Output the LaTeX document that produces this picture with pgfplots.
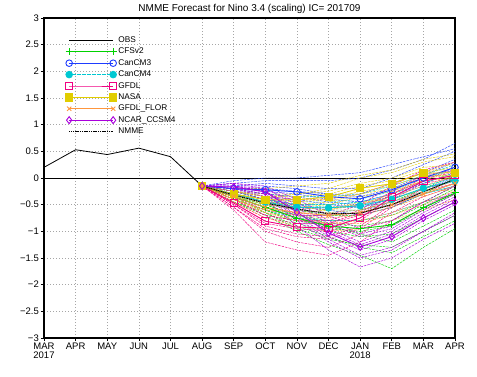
\documentclass[border=0pt]{standalone}
\usepackage{fontspec}
\setmainfont{Liberation Sans}
\usepackage{pgfplots}
\usepackage{pgfplotstable}
\pgfplotsset{compat=1.18}
\definecolor{cfs}{RGB}{0,210,0}
\definecolor{cm3}{RGB}{30,60,255}
\definecolor{cm4}{RGB}{0,200,210}
\definecolor{gfdl}{RGB}{240,0,130}
\definecolor{nasa}{RGB}{225,205,0}
\definecolor{flor}{RGB}{255,150,60}
\definecolor{ncar}{RGB}{170,0,220}
\pgfplotstableread{
x mean a b c d e f g h i j
5 -0.15 -0.15 -0.15 -0.15 -0.15 -0.15 -0.15 -0.15 -0.15 -0.15 -0.15
6 -0.35 -0.30 -0.40 -0.35 -0.45 -0.30 -0.35 -0.40 -0.25 -0.35 -0.45
7 -0.55 -0.45 -0.60 -0.65 -0.70 -0.50 -0.55 -0.60 -0.40 -0.50 -0.65
8 -0.75 -0.60 -0.85 -0.90 -1.00 -0.70 -0.75 -0.80 -0.55 -0.70 -0.95
9 -0.90 -0.70 -1.00 -1.10 -1.25 -0.80 -0.95 -0.90 -0.60 -0.85 -1.15
10 -0.95 -0.70 -1.10 -1.30 -1.45 -0.80 -1.00 -1.05 -0.60 -0.90 -1.25
11 -0.88 -0.55 -1.05 -1.40 -1.70 -0.70 -0.90 -1.20 -0.45 -0.80 -1.30
12 -0.56 -0.30 -0.75 -1.10 -1.30 -0.45 -0.60 -0.90 -0.20 -0.50 -1.00
13 -0.28 0.00 -0.45 -0.80 -0.95 -0.15 -0.30 -0.60 0.05 -0.20 -0.70
}\cfsdata
\pgfplotstableread{
x mean a b c d e f g h i
5 -0.15 -0.15 -0.15 -0.15 -0.15 -0.15 -0.15 -0.15 -0.15 -0.15
6 -0.20 -0.10 -0.15 -0.25 -0.20 -0.30 -0.15 -0.05 -0.25 -0.20
7 -0.22 -0.05 -0.10 -0.30 -0.25 -0.40 -0.15 0.00 -0.35 -0.20
8 -0.26 -0.05 -0.15 -0.35 -0.30 -0.50 -0.20 0.00 -0.40 -0.25
9 -0.35 -0.05 -0.20 -0.45 -0.40 -0.60 -0.30 0.05 -0.50 -0.30
10 -0.39 0.00 -0.20 -0.50 -0.45 -0.70 -0.30 0.10 -0.55 -0.35
11 -0.22 0.15 0.00 -0.35 -0.30 -0.55 -0.10 0.25 -0.40 -0.20
12 0.00 0.35 0.25 -0.10 -0.05 -0.30 0.10 0.40 -0.20 0.05
13 0.20 0.65 0.50 0.10 0.20 -0.10 0.35 0.55 0.00 0.30
}\cmthreedata
\pgfplotstableread{
x mean a b c d e f g h i
5 -0.15 -0.15 -0.15 -0.15 -0.15 -0.15 -0.15 -0.15 -0.15 -0.15
6 -0.30 -0.20 -0.25 -0.35 -0.40 -0.30 -0.30 -0.25 -0.35 -0.30
7 -0.45 -0.30 -0.40 -0.50 -0.60 -0.45 -0.40 -0.35 -0.55 -0.45
8 -0.55 -0.35 -0.50 -0.60 -0.75 -0.55 -0.50 -0.45 -0.70 -0.50
9 -0.56 -0.35 -0.50 -0.65 -0.80 -0.55 -0.50 -0.45 -0.70 -0.55
10 -0.52 -0.30 -0.45 -0.60 -0.80 -0.50 -0.45 -0.40 -0.65 -0.55
11 -0.40 -0.15 -0.35 -0.50 -0.65 -0.40 -0.30 -0.25 -0.50 -0.45
12 -0.19 0.05 -0.15 -0.30 -0.45 -0.20 -0.10 0.00 -0.30 -0.25
13 -0.05 0.25 0.00 -0.15 -0.30 -0.05 0.10 0.15 -0.15 -0.05
}\cmfourdata
\pgfplotstableread{
x mean a b c d e f g h i
5 -0.15 -0.15 -0.15 -0.15 -0.15 -0.15 -0.15 -0.15 -0.15 -0.15
6 -0.47 -0.35 -0.45 -0.50 -0.55 -0.60 -0.40 -0.50 -0.40 -0.55
7 -0.81 -0.60 -0.75 -0.85 -0.95 -1.20 -0.70 -0.90 -0.70 -1.00
8 -0.92 -0.70 -0.85 -0.95 -1.10 -1.35 -0.80 -1.05 -0.80 -1.20
9 -0.94 -0.70 -0.85 -1.00 -1.15 -1.45 -0.80 -1.10 -0.85 -1.30
10 -0.75 -0.50 -0.70 -0.80 -0.95 -1.20 -0.60 -0.90 -0.65 -1.05
11 -0.36 -0.15 -0.30 -0.40 -0.55 -0.80 -0.25 -0.50 -0.30 -0.65
12 -0.06 0.15 -0.05 -0.10 -0.25 -0.45 0.05 -0.20 0.00 -0.35
13 0.05 0.30 0.05 0.00 -0.10 -0.30 0.15 -0.05 0.10 -0.15
}\gfdldata
\pgfplotstableread{
x mean a b c d e f g h i
5 -0.15 -0.15 -0.15 -0.15 -0.15 -0.15 -0.15 -0.15 -0.15 -0.15
6 -0.30 -0.20 -0.25 -0.30 -0.35 -0.40 -0.25 -0.25 -0.35 -0.30
7 -0.41 -0.20 -0.35 -0.40 -0.50 -0.60 -0.35 -0.30 -0.45 -0.40
8 -0.41 -0.15 -0.30 -0.45 -0.55 -0.65 -0.35 -0.30 -0.50 -0.40
9 -0.36 -0.10 -0.25 -0.40 -0.50 -0.60 -0.30 -0.20 -0.45 -0.35
10 -0.19 0.05 -0.10 -0.25 -0.35 -0.45 -0.15 0.00 -0.30 -0.20
11 -0.11 0.15 0.00 -0.15 -0.25 -0.40 -0.05 0.10 -0.20 -0.10
12 0.09 0.35 0.20 0.05 -0.05 -0.20 0.15 0.30 0.00 0.10
13 0.10 0.45 0.25 0.05 0.00 -0.25 0.15 0.40 0.05 0.20
}\nasadata
\pgfplotstableread{
x mean a b c d e f g h i
5 -0.15 -0.15 -0.15 -0.15 -0.15 -0.15 -0.15 -0.15 -0.15 -0.15
6 -0.35 -0.25 -0.30 -0.40 -0.45 -0.35 -0.30 -0.30 -0.40 -0.35
7 -0.55 -0.35 -0.50 -0.60 -0.75 -0.65 -0.45 -0.45 -0.65 -0.55
8 -0.65 -0.40 -0.60 -0.70 -0.90 -0.75 -0.55 -0.55 -0.80 -0.65
9 -0.70 -0.40 -0.65 -0.75 -1.00 -0.85 -0.60 -0.55 -0.85 -0.70
10 -0.65 -0.30 -0.60 -0.70 -0.95 -0.85 -0.50 -0.50 -0.80 -0.65
11 -0.50 -0.10 -0.45 -0.55 -0.80 -0.70 -0.35 -0.30 -0.65 -0.50
12 -0.30 0.10 -0.25 -0.35 -0.60 -0.50 -0.15 -0.05 -0.45 -0.30
13 -0.10 0.30 -0.05 -0.15 -0.40 -0.30 0.05 0.15 -0.25 -0.10
}\flordata
\pgfplotstableread{
x mean a b c d e f g h i
5 -0.15 -0.15 -0.15 -0.15 -0.15 -0.15 -0.15 -0.15 -0.15 -0.15
6 -0.17 -0.10 -0.15 -0.20 -0.25 -0.15 -0.20 -0.20 -0.15 -0.10
7 -0.26 -0.15 -0.25 -0.30 -0.40 -0.20 -0.30 -0.35 -0.25 -0.20
8 -0.64 -0.40 -0.55 -0.70 -0.90 -0.50 -0.75 -0.80 -0.60 -0.45
9 -1.03 -0.70 -0.95 -1.10 -1.35 -0.85 -1.15 -1.20 -1.00 -0.80
10 -1.29 -0.95 -1.20 -1.35 -1.67 -1.10 -1.45 -1.50 -1.25 -1.05
11 -1.10 -0.80 -1.00 -1.15 -1.50 -0.95 -1.30 -1.35 -1.05 -0.90
12 -0.75 -0.45 -0.65 -0.80 -1.15 -0.60 -1.00 -1.00 -0.70 -0.55
13 -0.45 -0.15 -0.35 -0.50 -0.85 -0.30 -0.70 -0.65 -0.40 -0.25
}\ncardata
\begin{document}
\begin{tikzpicture}
\useasboundingbox (0,0) rectangle (477pt,376pt);
\begin{axis}[
  at={(44pt,38pt)}, anchor=south west,
  width=411pt, height=320pt, scale only axis,
  xmin=0, xmax=13, ymin=-3, ymax=3,
  xtick={0,...,13},
  xticklabels={MAR\\2017,APR,MAY,JUN,JUL,AUG,SEP,OCT,NOV,DEC,JAN\\2018,FEB,MAR,APR},
  xticklabel style={align=center, font=\fontsize{9.5}{9.5}\selectfont, inner sep=1.5pt},
  ytick={-3,-2.5,...,3},
  yticklabels={−3,−2.5,−2,−1.5,−1,−0.5,0,0.5,1,1.5,2,2.5,3},
  yticklabel style={font=\fontsize{9.5}{10}\selectfont, inner sep=2pt},
  tick pos=left, tick align=outside, major tick length=3pt,
  tick style={black, line width=0.6pt},
  axis line style={line width=1.1pt},
  grid=major,
  major grid style={gray!70, line width=0.6pt, dash pattern=on 0.8pt off 2.2pt},
  title={NMME Forecast for Nino 3.4 (scaling) IC= 201709},
  title style={font=\fontsize{10}{10}\selectfont, yshift=-5pt},
  legend style={draw=none, fill=none, at={(0.052,0.947)}, anchor=north west,
    font=\fontsize{8.3}{8.3}\selectfont, row sep=0.9pt, inner sep=0pt,
    nodes={inner sep=1.6pt}},
  legend cell align=left,
  legend image code/.code={\draw[mark repeat=2,mark phase=1,#1] plot coordinates {(0pt,0pt) (22pt,0pt) (44pt,0pt)};},
  member/.style={forget plot, line width=0.45pt, dash pattern=on 2.5pt off 1pt},
]
\addplot[black, line width=0.6pt, forget plot] coordinates {(0,0) (13,0)};
\pgfplotsinvokeforeach{a,b,c,d,e,f,g,h,i,j}{\addplot[member, cfs] table[x=x,y=#1]{\cfsdata};}
\pgfplotsinvokeforeach{a,b,c,d,e,f,g,h,i}{\addplot[member, cm3] table[x=x,y=#1]{\cmthreedata};}
\pgfplotsinvokeforeach{a,b,c,d,e,f,g,h,i}{\addplot[member, cm4] table[x=x,y=#1]{\cmfourdata};}
\pgfplotsinvokeforeach{a,b,c,d,e,f,g,h,i}{\addplot[member, gfdl] table[x=x,y=#1]{\gfdldata};}
\pgfplotsinvokeforeach{a,b,c,d,e,f,g,h,i}{\addplot[member, nasa] table[x=x,y=#1]{\nasadata};}
\pgfplotsinvokeforeach{a,b,c,d,e,f,g,h,i}{\addplot[member, flor] table[x=x,y=#1]{\flordata};}
\pgfplotsinvokeforeach{a,b,c,d,e,f,g,h,i}{\addplot[member, ncar] table[x=x,y=#1]{\ncardata};}
\addplot[black, line width=0.8pt] coordinates {(0,0.20) (1,0.53) (2,0.44) (3,0.56) (4,0.40) (5,-0.15)};
\addlegendentry{OBS}
\addplot[cfs, line width=0.9pt, mark=+, mark size=3.5pt, mark options={solid, line width=0.9pt}] table[x=x,y=mean]{\cfsdata};
\addlegendentry{CFSv2}
\addplot[cm3, line width=0.9pt, mark=o, mark size=3.3pt, mark options={solid, fill=white, line width=0.9pt}] table[x=x,y=mean]{\cmthreedata};
\addlegendentry{CanCM3}
\addplot[cm4, line width=0.9pt, dash pattern=on 2pt off 0.5pt, mark=*, mark size=3.3pt, mark options={solid}] table[x=x,y=mean]{\cmfourdata};
\addlegendentry{CanCM4}
\addplot[gfdl, line width=0.9pt, mark=square, mark size=3.6pt, mark options={solid, fill=white, line width=0.9pt}] table[x=x,y=mean]{\gfdldata};
\addlegendentry{GFDL}
\addplot[nasa, line width=0.7pt, mark=square*, mark size=3.6pt, mark options={solid}] table[x=x,y=mean]{\nasadata};
\addlegendentry{NASA}
\addplot[flor, line width=0.9pt, dash pattern=on 1.5pt off 0.5pt, mark=x, mark size=3pt, mark options={solid, line width=0.9pt}] table[x=x,y=mean]{\flordata};
\addlegendentry{GFDL\_FLOR}
\addplot[ncar, line width=0.9pt, mark=diamond, mark size=3.5pt, mark options={solid, fill=white, line width=0.9pt}] table[x=x,y=mean]{\ncardata};
\addlegendentry{NCAR\_CCSM4}
\addplot[black, line width=1pt, dash pattern=on 1.2pt off 0.6pt] coordinates {(5,-0.15) (6,-0.32) (7,-0.47) (8,-0.58) (9,-0.67) (10,-0.66) (11,-0.50) (12,-0.26) (13,-0.02)};
\addlegendentry{NMME}
\end{axis}
\end{tikzpicture}
\end{document}
